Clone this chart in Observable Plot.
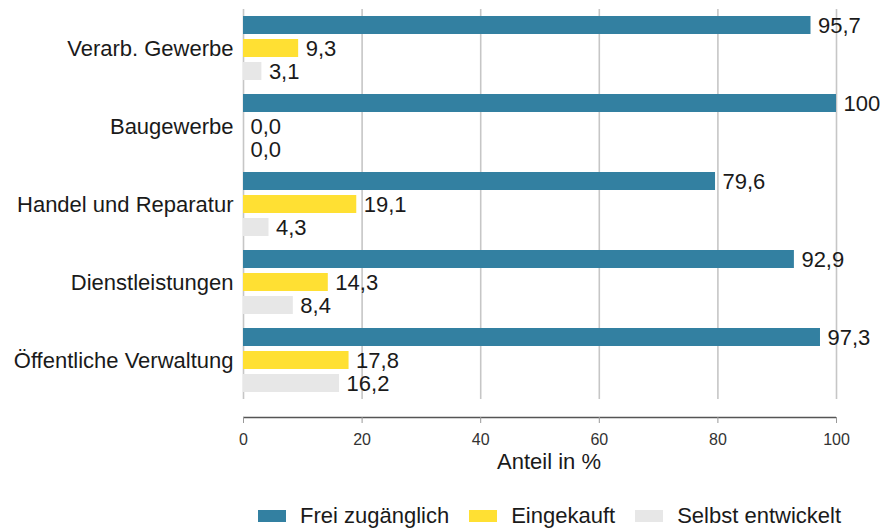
<!DOCTYPE html>
<html>
<head>
<meta charset="utf-8">
<script src="https://cdn.jsdelivr.net/npm/d3@7"></script>
<script src="https://cdn.jsdelivr.net/npm/@observablehq/plot@0.6"></script>
<style>
  html, body { margin: 0; padding: 0; background: #fff; }
  body { width: 881px; height: 528px; overflow: hidden; font-family: "Liberation Sans", Arial, sans-serif; }
  svg { display: block; }
  #legend { display: flex; align-items: center; padding-top: 24px; padding-left: 258px; height: 22px; font-size: 22px; color: #1a1a1a; }
  .item { display: flex; align-items: center; margin-right: 20px; line-height: 22px; }
  .sw { width: 28px; height: 12px; margin-right: 14px; }
</style>
</head>
<body>
<div id="chart"></div>
<div id="legend"></div>
<script>
const categories = ["Verarb. Gewerbe", "Baugewerbe", "Handel und Reparatur", "Dienstleistungen", "Öffentliche Verwaltung"];
const series = ["Frei zugänglich", "Eingekauft", "Selbst entwickelt"];
const frei = [95.7, 100, 79.6, 92.9, 97.3];
const eingekauft = [9.3, 0, 19.1, 14.3, 17.8];
const selbst = [3.1, 0, 4.3, 8.4, 16.2];
const xTicks = [0, 20, 40, 60, 80, 100];
const colors = ["#3380a1", "#ffe033", "#e7e7e7"];
const xLabel = "Anteil in %";

const valuesBySeries = [frei, eingekauft, selbst];
const data = [];
categories.forEach((cat, i) => {
  series.forEach((s, j) => {
    data.push({cat, series: s, value: valuesBySeries[j][i]});
  });
});
const fmt = v => v === 100 ? "100" : v.toFixed(1).replace(".", ",");

const main = Plot.plot({
  width: 881,
  height: 401,
  marginLeft: 243,
  marginRight: 45,
  marginTop: 9,
  marginBottom: 2,
  style: {fontFamily: "'Liberation Sans', Arial, sans-serif", fontSize: "22px", background: "#fff"},
  x: {domain: [0, 100], axis: null},
  fy: {domain: categories, padding: 0},
  y: {domain: series, paddingInner: 0.217, paddingOuter: 0.304, axis: null},
  color: {domain: series, range: colors},
  marks: [
    Plot.ruleX(xTicks, {stroke: "#c6c6c6", strokeWidth: 1.6}),
    Plot.barX(data, {fy: "cat", y: "series", x: "value", fill: "series"}),
    Plot.text(data, {fy: "cat", y: "series", x: "value", text: d => fmt(d.value), dx: 7, textAnchor: "start", fontSize: 22, fill: "#1a1a1a"}),
    Plot.axisFy({anchor: "left", tickSize: 0, tickPadding: 10, fontSize: 22, label: null, color: "#1a1a1a"})
  ]
});

const axis = Plot.plot({
  width: 881,
  height: 80,
  marginLeft: 243,
  marginRight: 45,
  marginTop: 0,
  marginBottom: 64,
  style: {fontFamily: "'Liberation Sans', Arial, sans-serif", fontSize: "16px", background: "#fff", overflow: "visible"},
  x: {domain: [0, 100]},
  y: {domain: [0, 1], axis: null},
  marks: [
    Plot.ruleY([0], {stroke: "#555", strokeWidth: 1.5}),
    Plot.axisX(xTicks, {anchor: "bottom", tickSize: 6, tickPadding: 10, fontSize: 16, stroke: "#999", fill: "#333", label: null}),
    Plot.text([xLabel], {frameAnchor: "bottom", text: d => d, dx: 9, dy: 51, fontSize: 22, fill: "#1a1a1a"})
  ]
});

document.getElementById("chart").append(main, axis);

const legend = document.getElementById("legend");
series.forEach((s, j) => {
  const item = document.createElement("div");
  item.className = "item";
  const sw = document.createElement("span");
  sw.className = "sw";
  sw.style.background = colors[j];
  const t = document.createElement("span");
  t.textContent = s;
  item.append(sw, t);
  legend.append(item);
});
</script>
</body>
</html>
